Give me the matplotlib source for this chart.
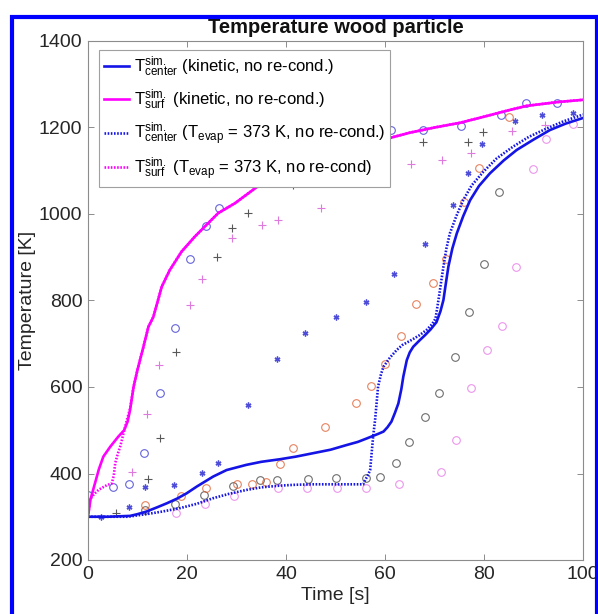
import matplotlib
matplotlib.use('Agg')
import matplotlib.pyplot as plt
from matplotlib.patches import Rectangle

plt.rcParams['font.family'] = ['Liberation Sans', 'DejaVu Sans']
plt.rcParams['mathtext.fontset'] = 'custom'
plt.rcParams['mathtext.rm'] = 'Liberation Sans'
plt.rcParams['mathtext.it'] = 'Liberation Sans:italic'
plt.rcParams['mathtext.bf'] = 'Liberation Sans:bold'

# simulated surface temperature, kinetic evaporation model
surf_kin_t = [0, 0.5, 1.4, 2.2, 3.1, 4.5, 6.1, 7.3, 8.0, 8.5, 9.2, 10, 11.2, 12.2, 13.2,
              14.9, 16.5, 18.9, 21.6, 23.6, 26.3, 29.7, 35, 40, 45, 50, 55, 60.7, 65,
              70, 75.2, 80, 85, 88.6, 95, 100]
surf_kin_T = [300, 340, 377, 410, 439, 462, 485, 500, 520, 547, 600, 640, 693, 739, 762,
              832, 870, 913, 948, 971, 1002, 1025, 1070, 1100, 1125, 1145, 1160, 1175, 1188,
              1200, 1211, 1225, 1240, 1250, 1259, 1264]

# simulated surface temperature, evaporation at 373 K
surf_evap_t = [0, 0.4, 1.2, 2.1, 3.0, 3.8, 4.8, 5.2, 5.5, 6.0, 6.5, 7.0, 7.5, 8.0, 8.5,
               9.2, 10, 11.2, 12.2, 13.2, 14.9, 16.5, 18.9, 21.6, 23.6, 26.3, 29.7, 35, 40,
               45, 50, 55, 60.7, 65, 70, 75.2, 80, 85, 88.6, 95, 100]
surf_evap_T = [300, 340, 352, 362, 368, 373, 377, 395, 424, 445, 462, 485, 508, 530, 550,
               600, 640, 693, 739, 762, 832, 870, 913, 948, 971, 1002, 1025, 1070, 1100,
               1125, 1145, 1160, 1175, 1188, 1200, 1211, 1225, 1240, 1250, 1259, 1264]

# simulated center temperature, kinetic evaporation model
cent_kin_t = [0, 4, 8.5, 10, 11.8, 14, 15.9, 18, 19.9, 22, 25.3, 28, 32, 35, 38.8, 42, 45.5,
              49, 52.3, 54.5, 56.3, 57.6, 58.7, 59.7, 60.5, 61.3, 62, 62.7, 63.3, 63.7, 64.4,
              65, 65.7, 67, 68.1, 69.2, 70.4, 71.2, 71.8, 72.3, 72.8, 73.6, 74.5, 75.8, 77.2,
              79, 81.2, 84, 86.6, 90, 93.3, 96.5, 100]
cent_kin_T = [300, 300, 302, 306, 312, 322, 331, 342, 354, 370, 393, 408, 420, 427, 433, 439,
              447, 455, 466, 473, 481, 487, 492, 497, 507, 520, 540, 562, 595, 624, 662,
              680, 693, 708, 720, 733, 750, 775, 801, 840, 878, 920, 955, 995, 1032,
              1065, 1094, 1124, 1148, 1172, 1194, 1209, 1222]

# simulated center temperature, evaporation at 373 K
cent_evap_t = [0, 8, 11.8, 15, 18.6, 22, 25.3, 28.5, 32, 35, 38.8, 42, 45.5, 50, 55.6, 56,
               56.5, 57, 57.3, 57.6, 58.0, 58.6, 59.2, 59.7, 61, 62.4, 63.5, 65.4, 67, 68.4,
               69.5, 70.2, 70.8, 71.3, 71.8, 72.4, 73.1, 74.4, 75.8, 77.5, 79.9, 82.5, 85.9,
               89, 92.7, 96, 100]
cent_evap_T = [300, 300, 306, 312, 320, 330, 343, 353, 362, 368, 372, 374, 375, 375, 375, 385,
               395, 408, 447, 485, 524, 601, 630, 647, 668, 686, 697, 709, 720, 732,
               745, 758, 801, 840, 878, 920, 955, 995, 1032, 1066, 1098, 1128, 1156,
               1178, 1198, 1214, 1230]

# measurements
blue_circ_t = [0, 5.0, 8.3, 11.3, 14.5, 17.5, 20.7, 23.8, 26.5, 61.3, 67.7, 75.3, 83.4, 88.5, 94.8]
blue_circ_T = [350, 368, 375, 447, 587, 737, 895, 973, 1015, 1194, 1195, 1204, 1229, 1257, 1257]

blue_star_t = [2.6, 8.3, 11.5, 17.4, 23.1, 26.3, 32.3, 38.2, 43.9, 50.2, 56.1, 61.9, 68.1,
               73.8, 76.8, 79.6, 86.3, 91.7, 97.9]
blue_star_T = [300, 323, 369, 373, 402, 424, 558, 664, 726, 761, 796, 862, 931,
               1020, 1094, 1163, 1214, 1229, 1233]

black_plus_t = [5.7, 12.2, 14.6, 17.8, 26.0, 29.0, 32.4, 41.5, 67.6, 76.7, 79.7]
black_plus_T = [309, 387, 483, 682, 900, 967, 1003, 1068, 1166, 1166, 1189]

pink_plus_t = [8.8, 11.9, 14.4, 20.7, 23.1, 29.1, 35.2, 38.4, 47.1, 65.3, 71.5, 77.3, 85.7, 92.3]
pink_plus_T = [404, 538, 652, 790, 849, 944, 975, 986, 1013, 1115, 1126, 1140, 1193, 1206]

black_circ_t = [11.5, 17.6, 23.4, 29.3, 34.8, 38.2, 44.4, 50.1, 56.2, 58.9, 62.2, 64.8, 68.1,
                71.0, 74.2, 77.0, 79.9, 83.0]
black_circ_T = [315, 329, 351, 372, 385, 384, 387, 390, 390, 393, 425, 472, 531,
                586, 670, 773, 884, 1052]

orange_circ_t = [11.6, 18.7, 23.9, 30.1, 33.1, 35.9, 38.7, 41.5, 47.9, 54.1, 57.1, 60.0, 63.2,
                 66.2, 69.6, 72.3, 76.0, 78.9, 85.1]
orange_circ_T = [327, 348, 367, 376, 376, 381, 422, 460, 508, 564, 602, 654, 719,
                 791, 841, 895, 1028, 1107, 1224]

pink_circ_t = [17.7, 23.6, 29.5, 38.4, 44.3, 50.4, 56.1, 62.8, 71.4, 74.4, 77.4, 80.6, 83.6,
               86.4, 89.8, 92.5, 98.0]
pink_circ_T = [308, 329, 349, 366, 367, 367, 367, 375, 404, 477, 598, 686, 742,
               877, 1104, 1173, 1207]

BLUE = '#1414e6'
MAGENTA = '#ff00ff'
dots = (0, (0.6, 0.6))

fig = plt.figure(figsize=(5.98, 6.14), dpi=100)
ax = fig.add_axes([88 / 598, 1 - 560 / 614, 495 / 598, 519 / 614])

mk = dict(linestyle='none', markersize=5.5, markeredgewidth=0.8, markerfacecolor='none')
ax.plot(blue_circ_t, blue_circ_T, marker='o', color='#3030d0', alpha=0.75, **mk)
ax.plot(blue_star_t, blue_star_T, marker=(6, 2, 0), color='#2020d0', alpha=0.8,
        linestyle='none', markersize=4.2, markeredgewidth=1.0)
ax.plot(black_plus_t, black_plus_T, marker='+', color='#202020', alpha=0.75, **mk)
ax.plot(pink_plus_t, pink_plus_T, marker='+', color='#d040d0', alpha=0.7, **mk)
ax.plot(black_circ_t, black_circ_T, marker='o', color='#303030', alpha=0.7, **mk)
ax.plot(orange_circ_t, orange_circ_T, marker='o', color='#e05a2a', alpha=0.75, **mk)
ax.plot(pink_circ_t, pink_circ_T, marker='o', color='#e050e0', alpha=0.6, **mk)

l1, = ax.plot(cent_kin_t, cent_kin_T, color=BLUE, lw=1.9)
l2, = ax.plot(surf_kin_t, surf_kin_T, color=MAGENTA, lw=1.9)
l3, = ax.plot(cent_evap_t, cent_evap_T, color=BLUE, lw=1.9, linestyle=dots)
l4, = ax.plot(surf_evap_t, surf_evap_T, color=MAGENTA, lw=1.9, linestyle=dots)

labels = [
    r'$\mathregular{T^{sim.}_{center}}$ (kinetic, no re-cond.)',
    r'$\mathregular{T^{sim.}_{surf}}$ (kinetic, no re-cond.)',
    r'$\mathregular{T^{sim.}_{center}}$ ($\mathregular{T_{evap}}$ = 373 K, no re-cond.)',
    r'$\mathregular{T^{sim.}_{surf}}$ ($\mathregular{T_{evap}}$ = 373 K, no re-cond)',
]
leg = ax.legend([l1, l2, l3, l4], labels, loc='upper left', bbox_to_anchor=(0.022, 0.983),
                borderaxespad=0, fontsize=12, handlelength=1.5, handletextpad=0.3,
                labelspacing=0.5, borderpad=0.3, fancybox=False, framealpha=1,
                edgecolor='#a0a0a0')
leg.get_frame().set_linewidth(0.8)

ax.set_xlim(0, 100)
ax.set_ylim(200, 1400)
ax.set_xticks(range(0, 101, 20))
ax.set_yticks(range(200, 1401, 200))
ax.tick_params(direction='in', length=4, width=0.7, color='#8c8c8c', labelsize=14,
               labelcolor='#262626', top=True, right=True, pad=4)
for s in ax.spines.values():
    s.set_color('#8c8c8c')
    s.set_linewidth(0.8)

ax.set_xlabel('Time [s]', fontsize=14, color='#262626', labelpad=3)
ax.set_ylabel('Temperature [K]', fontsize=14, color='#262626', labelpad=2)
ax.set_title('Temperature wood particle', fontsize=14.5, fontweight='bold', color='#111111', pad=6)

# blue frame round the figure
fig.add_artist(Rectangle((12 / 598, -0.1), 584.5 / 598, 1.1 - 17 / 614, transform=fig.transFigure,
                         fill=False, edgecolor='#0000ff', linewidth=3.0, zorder=10))

fig.savefig('out.png', dpi=100)
